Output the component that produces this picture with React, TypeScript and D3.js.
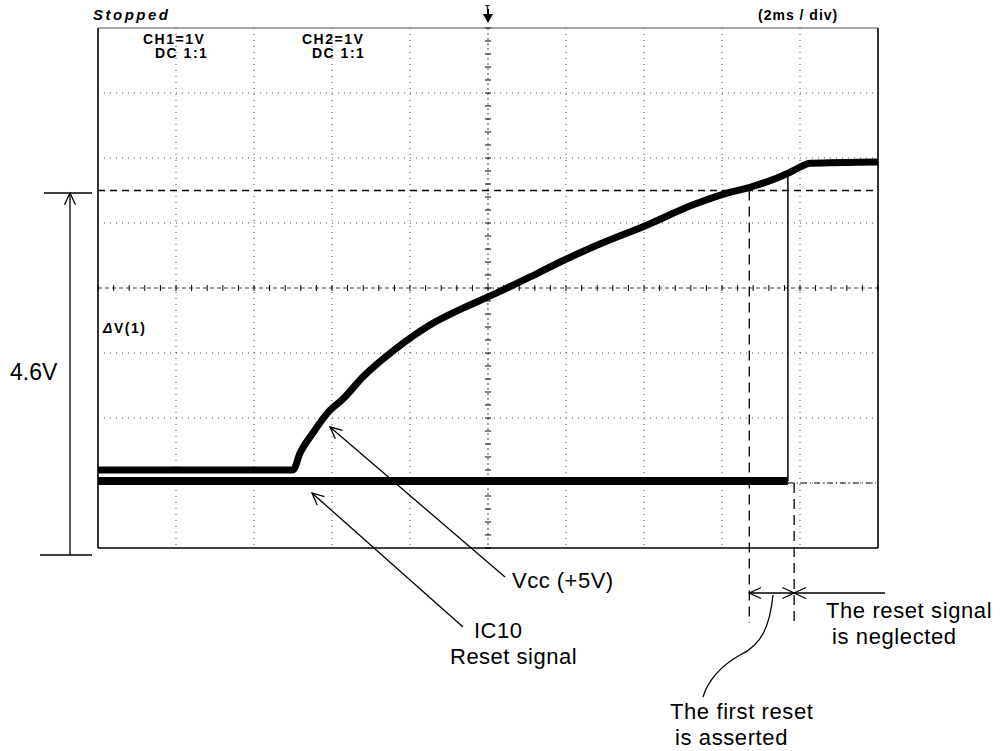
import React from 'react';
import * as d3 from 'd3';

// time in ms (2 ms/div), volts (1 V/div)
const vccTime = [-10, -5.0, -4.82, -4.49, -4.05, -3.74, -3.21, -2.33, -1.49, -0.64, 0.1, 1.08, 1.85, 2.69, 4.08, 5.26, 6.13, 6.72, 7.74, 8.0, 8.26, 10];
const vccVolts = [0.2, 0.2, 0.46, 0.77, 1.12, 1.28, 1.63, 2.08, 2.43, 2.69, 2.89, 3.17, 3.4, 3.63, 3.97, 4.28, 4.46, 4.55, 4.78, 4.86, 4.92, 4.94];
const resetTime = [-10, 7.69, 7.69];
const resetVolts = [0.03, 0.03, 4.77];

const cursorVolts = 4.5;
const assertTime = 6.7;
const neglectTime = 7.85;

const xTicks = d3.range(-10, 10.001, 2);
const yTicks = d3.range(-1, 7.001, 1);

const width = 1006, height = 751;
const plot = { left: 98, right: 878, top: 28, bottom: 548 };

const annoFont = '"Liberation Sans", Arial, sans-serif';
const scopeFont = '"Liberation Sans", Arial, sans-serif';

const OpenHead = ({ x, y, angle }: { x: number; y: number; angle: number }) => {
  // open V arrowhead, tip at x,y pointing in direction angle (deg)
  const len = 13, spread = 25;
  const a = (angle + 180) * Math.PI / 180;
  const s = spread * Math.PI / 180;
  const p1 = [x + len * Math.cos(a - s), y + len * Math.sin(a - s)];
  const p2 = [x + len * Math.cos(a + s), y + len * Math.sin(a + s)];
  return <path d={`M${p1[0]},${p1[1]}L${x},${y}L${p2[0]},${p2[1]}`} fill="none" stroke="#000" strokeWidth={1.3} />;
};

const leader = (x1: number, y1: number, x2: number, y2: number) => {
  const ang = Math.atan2(y1 - y2, x1 - x2) * 180 / Math.PI;
  return (
    <g>
      <line x1={x1} y1={y1} x2={x2} y2={y2} stroke="#000" strokeWidth={1.3} />
      <OpenHead x={x1} y={y1} angle={ang} />
    </g>
  );
};

export default function App() {
  const x = d3.scaleLinear().domain([-10, 10]).range([plot.left, plot.right]);
  const y = d3.scaleLinear().domain([-1, 7]).range([plot.bottom, plot.top]);

  const vccData = vccTime.map((t, i) => [t, vccVolts[i]] as [number, number]);
  const smooth = d3.line<[number, number]>().x(d => x(d[0])).y(d => y(d[1])).curve(d3.curveMonotoneX);
  const straight = d3.line<[number, number]>().x(d => x(d[0])).y(d => y(d[1]));

  const resetLevel = resetTime.map((t, i) => [t, resetVolts[i]] as [number, number]);
  const levelPart = resetLevel.slice(0, 2);
  const edgePart = resetLevel.slice(1);

  const xc = x(0), yc = y(3);
  const minorX = d3.range(-10, 10.001, 0.4);
  const minorY = d3.range(-1, 7.001, 0.2);

  const yCursor = y(cursorVolts);
  const xa = x(assertTime), xn = x(neglectTime);
  const dimY = 593;

  return (
    <svg width={width} height={height} style={{ position: 'absolute', left: 0, top: 0, background: '#fff' }}>
      {/* grid */}
      <g stroke="#000" strokeWidth={1} strokeDasharray="1,5" opacity={0.7}>
        {xTicks.slice(1, -1).filter(t => t !== 0).map(t => (
          <line key={'gx' + t} x1={x(t)} x2={x(t)} y1={plot.top} y2={plot.bottom} />
        ))}
        {yTicks.slice(1, -1).filter(v => v !== 3).map(v => (
          <line key={'gy' + v} x1={plot.left} x2={plot.right} y1={y(v)} y2={y(v)} />
        ))}
      </g>
      {/* centre axes with minor ticks */}
      <g stroke="#000" strokeWidth={1}>
        <line x1={plot.left} x2={plot.right} y1={yc} y2={yc} strokeDasharray="4,3" opacity={0.75} />
        <line x1={xc} x2={xc} y1={plot.top} y2={plot.bottom} strokeDasharray="2,3" opacity={0.75} />
        {minorX.map(t => (
          <line key={'mx' + t} x1={x(t)} x2={x(t)} y1={yc - 3} y2={yc + 3} />
        ))}
        {minorY.map(v => (
          <line key={'my' + v} x1={xc - 3} x2={xc + 3} y1={y(v)} y2={y(v)} />
        ))}
      </g>
      {/* frame */}
      <line x1={plot.left} x2={plot.right} y1={plot.top} y2={plot.top} stroke="#555" strokeWidth={1.2} />
      <line x1={plot.left} x2={plot.left} y1={plot.top} y2={plot.bottom} stroke="#000" strokeWidth={1.6} />
      <line x1={plot.right} x2={plot.right} y1={plot.top} y2={plot.bottom} stroke="#000" strokeWidth={1.6} />
      <line x1={plot.left} x2={plot.right} y1={plot.bottom} y2={plot.bottom} stroke="#000" strokeWidth={1.4} />

      {/* cursor */}
      <line x1={plot.left} x2={plot.right} y1={yCursor} y2={yCursor} stroke="#000" strokeWidth={1.3} strokeDasharray="7,5" />
      <line x1={x(resetTime[1])} x2={plot.right} y1={y(0)} y2={y(0)} stroke="#000" strokeWidth={1} strokeDasharray="6,3,1,3" />

      {/* traces */}
      <path d={straight(levelPart) || ''} fill="none" stroke="#000" strokeWidth={8} />
      <path d={straight(edgePart) || ''} fill="none" stroke="#000" strokeWidth={1.5} />
      <path d={smooth(vccData) || ''} fill="none" stroke="#000" strokeWidth={7} strokeLinejoin="round" />

      {/* timing marks */}
      <line x1={xa} x2={xa} y1={yCursor} y2={623} stroke="#000" strokeWidth={1.3} strokeDasharray="10,6" />
      <line x1={xn} x2={xn} y1={y(0)} y2={623} stroke="#000" strokeWidth={1.3} strokeDasharray="10,6" />
      <line x1={xa} x2={885} y1={dimY} y2={dimY} stroke="#000" strokeWidth={1.3} />
      <OpenHead x={xa} y={dimY} angle={180} />
      <OpenHead x={xn} y={dimY} angle={0} />
      <OpenHead x={xn} y={dimY} angle={180} />
      <path d={`M773,595 C770,625 762,645 740,655 C722,665 708,680 703,697`} fill="none" stroke="#000" strokeWidth={1.3} />

      {/* 4.6V dimension */}
      <line x1={44} x2={92} y1={193} y2={193} stroke="#000" strokeWidth={1.3} />
      <line x1={40} x2={92} y1={555} y2={555} stroke="#000" strokeWidth={1.3} />
      <line x1={70} x2={70} y1={193} y2={555} stroke="#000" strokeWidth={1.3} />
      <OpenHead x={70} y={193} angle={-90} />
      <text x={10} y={380} fontFamily={annoFont} fontSize={23}>4.6V</text>

      {/* leaders */}
      {leader(330, 427, 505, 577)}
      {leader(312, 493, 463, 627)}

      {/* annotation text */}
      <g fontFamily={annoFont} fontSize={22} fill="#000">
        <text x={512} y={588} letterSpacing={0.5}>Vcc (+5V)</text>
        <text x={474} y={638} letterSpacing={0.5}>IC10</text>
        <text x={450} y={664} letterSpacing={0.5}>Reset signal</text>
        <text x={826} y={618} letterSpacing={0.6}>The reset signal</text>
        <text x={832} y={644} letterSpacing={0.6}>is neglected</text>
        <text x={670} y={719} letterSpacing={0.6}>The first reset</text>
        <text x={675} y={745} letterSpacing={0.6}>is asserted</text>
      </g>

      {/* scope header */}
      <g fontFamily={scopeFont} fontWeight="bold" fill="#000">
        <text x={93} y={20} fontSize={15} fontStyle="italic" letterSpacing={2.5}>Stopped</text>
        <text x={143} y={44} fontSize={14} letterSpacing={1.5}>CH1=1V</text>
        <text x={155} y={58} fontSize={14} letterSpacing={1.5}>DC  1:1</text>
        <text x={302} y={44} fontSize={14} letterSpacing={1.5}>CH2=1V</text>
        <text x={312} y={58} fontSize={14} letterSpacing={1.5}>DC  1:1</text>
        <text x={758} y={20} fontSize={14} letterSpacing={1}>(2ms / div)</text>
        <text x={103} y={333} fontSize={14} letterSpacing={1.5}>
          <tspan fontStyle="italic">Δ</tspan>V(1)
        </text>
        <text x={xc - 3} y={10} fontSize={8}>T</text>
        <path d={`M${xc - 5},14 L${xc + 5},14 L${xc},23 Z`} fill="#000" />
        <line x1={xc} x2={xc} y1={9} y2={16} stroke="#000" strokeWidth={2} />
      </g>
    </svg>
  );
}
